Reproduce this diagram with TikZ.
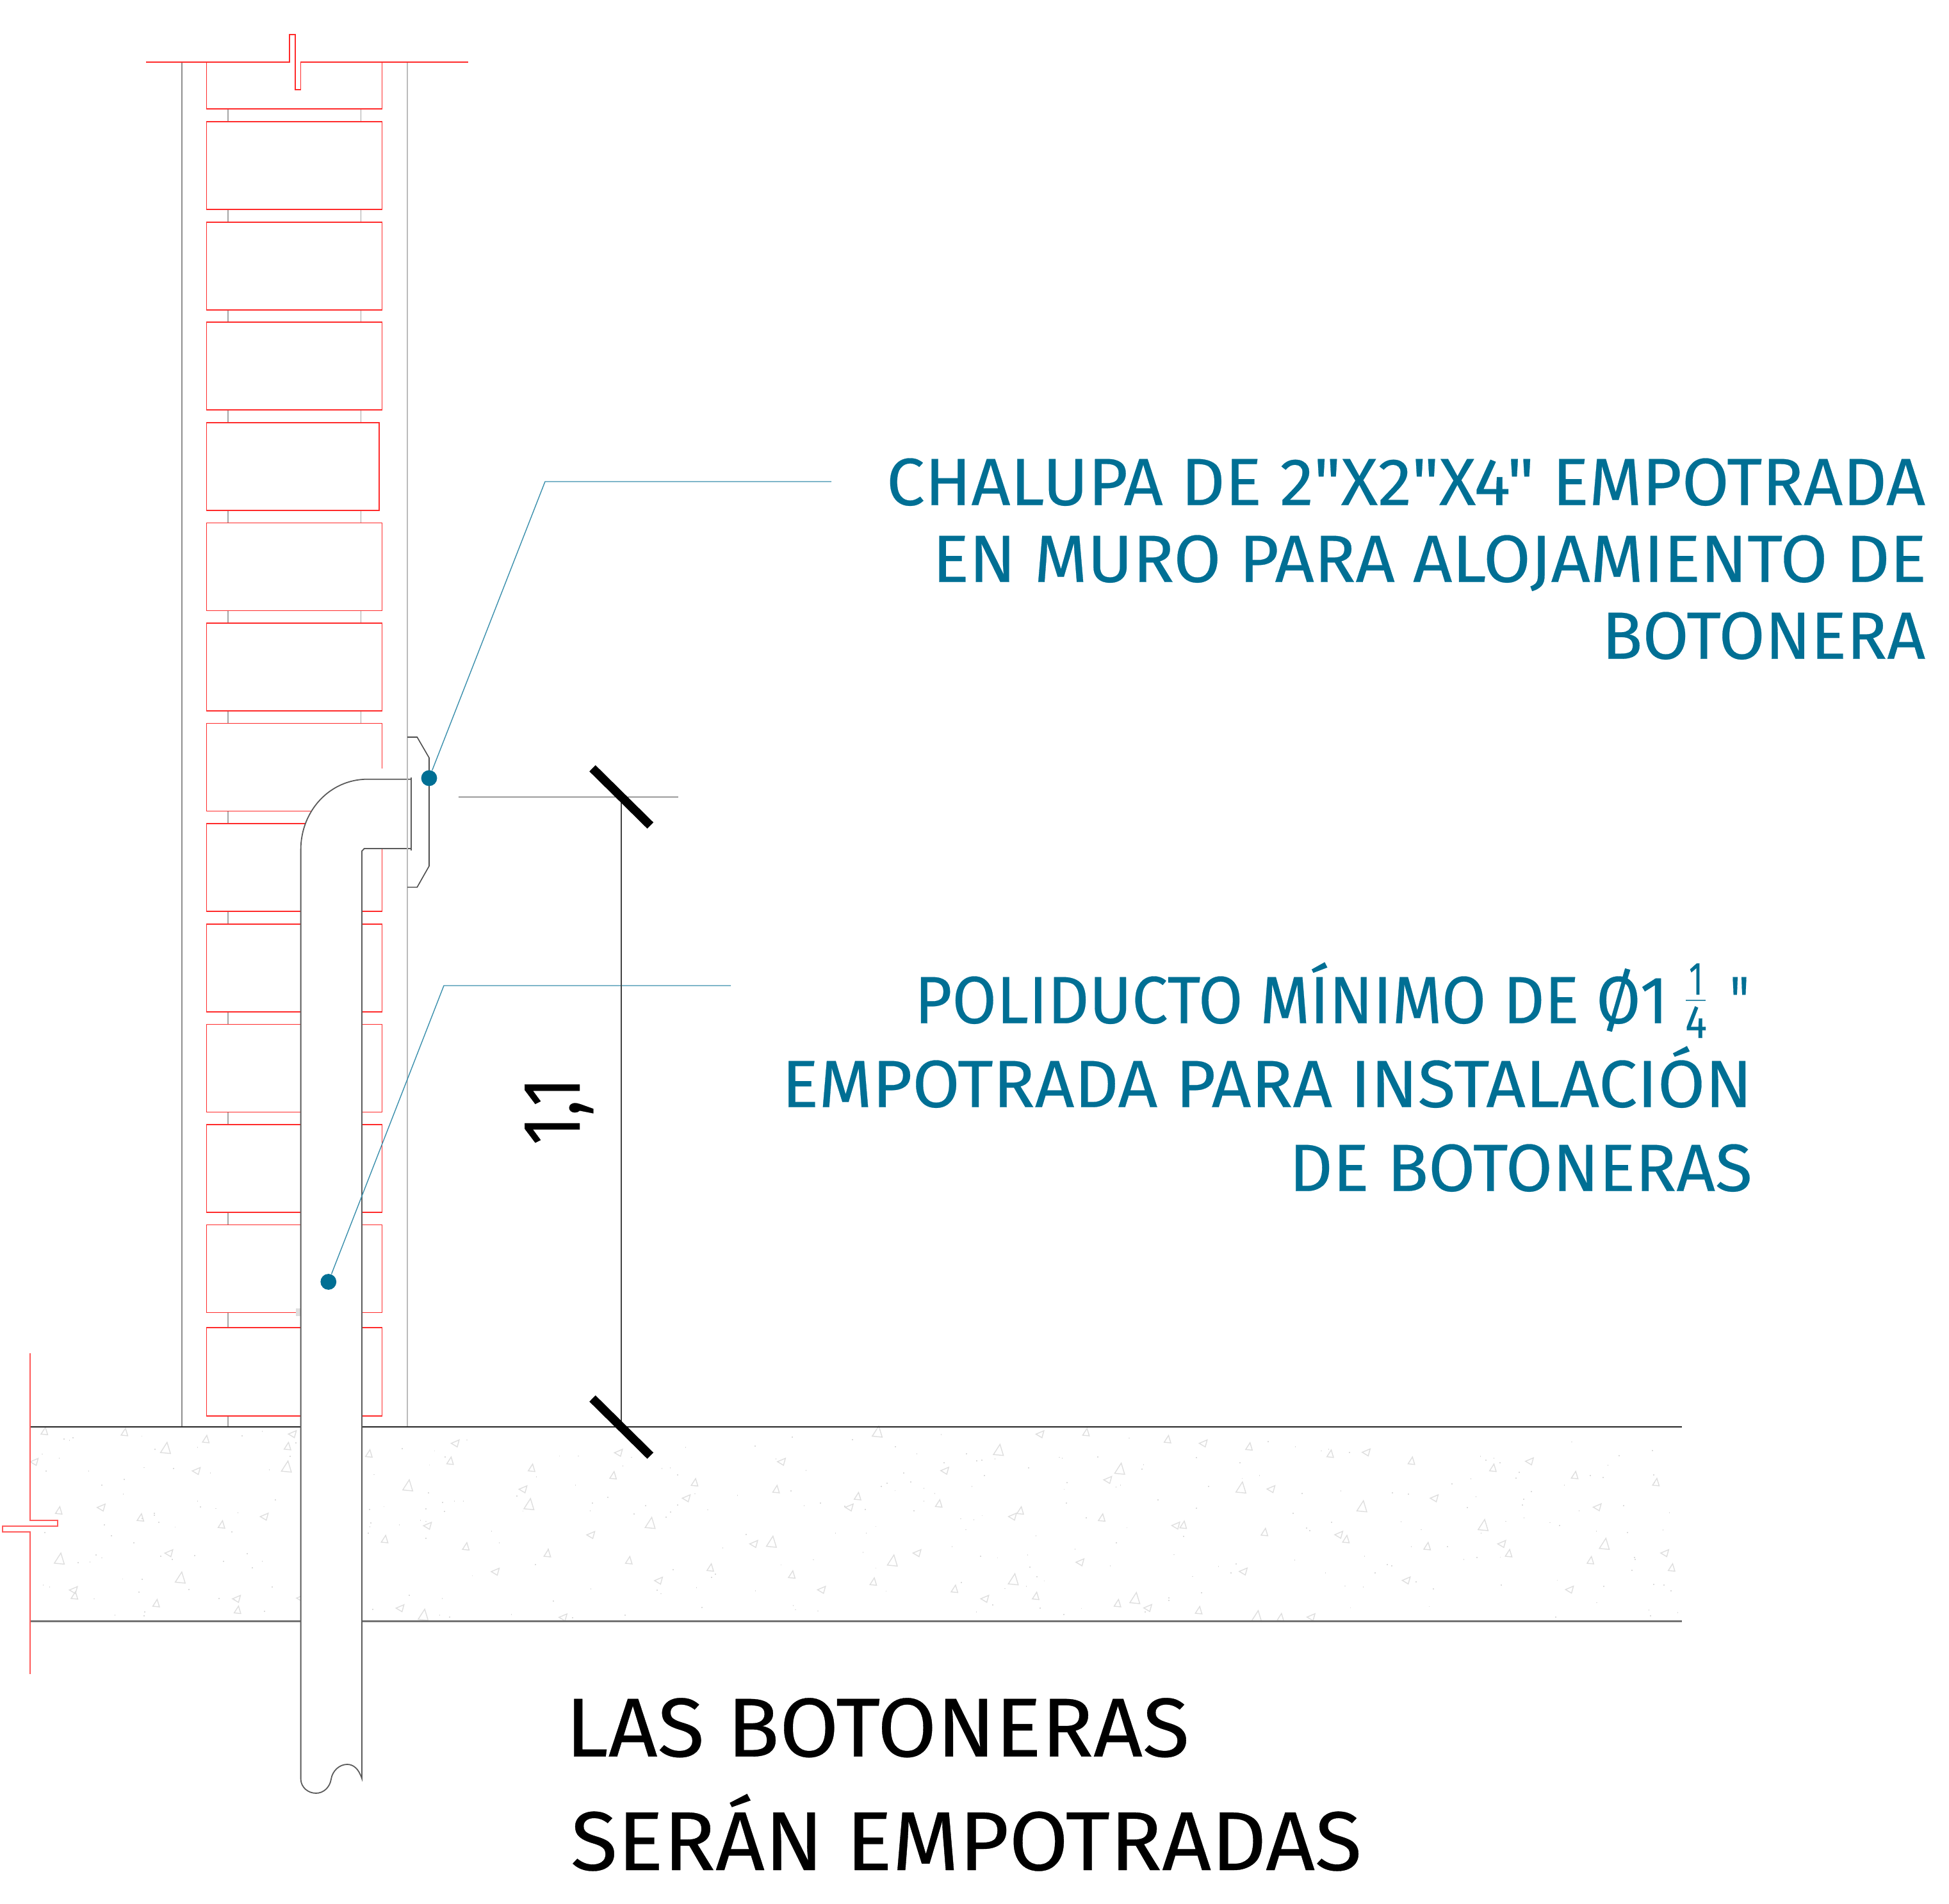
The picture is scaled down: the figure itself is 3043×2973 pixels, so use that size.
\documentclass[tikz,border=0pt]{standalone}
\usepackage{fontspec}
\usepackage{graphicx}
\newfontfamily\dinf{Fira Sans}[FakeBold=0.25]
\definecolor{teal}{HTML}{006F94}
\definecolor{leader}{HTML}{3A8FAC}
\definecolor{brick}{HTML}{FF2A2A}
\definecolor{breakl}{HTML}{FF5A5A}
\definecolor{wallg}{HTML}{8E8E8E}
\definecolor{walll}{HTML}{BBBBBB}
\definecolor{pipeg}{HTML}{5A5A5A}
\definecolor{aggr}{HTML}{DEDEDE}
\newdimen\pxu \pxu=.25pt
\newcommand{\fitw}[2]{\resizebox{#1\pxu}{\height}{#2}}
\newcommand{\tealfont}{\dinf\fontsize{26.1}{30}\selectfont}
\newcommand{\blackfont}{\dinf\fontsize{32.6}{38}\selectfont}
% aggregate: origin, zoom factors, lists of small up, left-pointing and large triangles
\newcommand{\aggregate}[7]{%
  \foreach \zx/\zy in {#5}{%
    \pgfmathsetmacro\cx{#1+\zx/#3}\pgfmathsetmacro\cy{#2+\zy/#4}%
    \draw[aggrline,shift={(\cx,\cy)}] (1.5,-5.6) -- (-5.3,5) -- (5,6) -- cycle;}%
  \foreach \zx/\zy in {#6}{%
    \pgfmathsetmacro\cx{#1+\zx/#3}\pgfmathsetmacro\cy{#2+\zy/#4}%
    \draw[aggrline,shift={(\cx,\cy)}] (6,-5.3) -- (-6.4,0) -- (3,5.6) -- cycle;}%
  \foreach \zx/\zy in {#7}{%
    \pgfmathsetmacro\cx{#1+\zx/#3}\pgfmathsetmacro\cy{#2+\zy/#4}%
    \draw[aggrline,shift={(\cx,\cy)}] (2.2,-8.4) -- (-8,7.5) -- (7.5,9) -- cycle;}%
}
\tikzset{
  txt/.style={inner sep=0pt,outer sep=0pt},
  tealtxt/.style={txt,text=teal,font=\tealfont},
  blacktxt/.style={txt,text=black,font=\blackfont},
  brickline/.style={draw=brick,line width=.45pt},
  breakline/.style={draw=breakl,line width=.5pt},
  wallline/.style={draw=wallg,line width=.45pt},
  walllight/.style={draw=walll,line width=.5pt},
  mortar/.style={draw=wallg!80,line width=.4pt},
  slabtop/.style={draw=black!85,line width=.45pt},
  slabbot/.style={draw=black!55,line width=.6pt},
  pipeline/.style={draw=pipeg,line width=.45pt},
  boxline/.style={draw=black!70,line width=.4pt},
  dimline/.style={draw=black!75,line width=.4pt},
  leaderline/.style={draw=leader,line width=.35pt},
  tick/.style={draw=black,line width=3.4pt},
  leaderdot/.style={circle,fill=teal,inner sep=0pt,minimum size=6.2pt},
  aggrline/.style={draw=aggr,line width=.35pt},
}
\begin{document}
\begin{tikzpicture}[x=.25pt,y=-.25pt]
\useasboundingbox (0,0) rectangle (3043,2973);
% slab texture
\pgfmathsetseed{42}
\foreach \i in {1,...,320}{%
  \pgfmathsetmacro\px{50+rnd*2570}\pgfmathsetmacro\py{2234+rnd*292}%
  \fill[black!14] (\px,\py) rectangle ++(1.6,1.8);}
\aggregate{560}{2225}{2.24}{3}
 {36/133,320/167,605/200,890/235,1175/268,1460/300,91/534,375/568,660/600,945/633,1230/667,1515/700}
 {338/86,909/130,1479/172,575/301,1146/343,241/472,812/515,1382/557,478/687,1049/729,145/858,715/901}
 {172/282,596/370,1020/458,1444/546,226/888}
\aggregate{1260}{2225}{2.24}{3}
 {976/33,1261/66,1546/100,177/333,461/367,746/400,1031/433,1316/467,232/733,516/767,800/800,1086/834,1370/867}
 {815/43,1386/86,482/214,1052/257,148/386,719/429,1290/471,385/600,955/643,1526/686,51/772,622/814,1192/857}
 {246/30,670/116,1094/204,1518/292,299/634,722/722,1147/810}
\aggregate{1960}{2225}{2.24}{3}
 {262/134,546/167,831/200,1117/234,1401/267,32/501,317/534,601/567,886/600,1172/633,1456/667,88/900}
 {388/128,959/170,55/300,626/343,1196/385,292/514,862/557,1432/600,528/728,1099/771,195/900}
 {373/380,797/468,1221/556,5/895}
\aggregate{0}{2000}{1.96}{1.823}
 {630/450,880/470,180/653,430/673,678/693,228/895,478/917,727/936,381/430,136/427}
 {895/436,105/515,601/541,310/645,809/671,517/775,225/880,724/905,920/903}
 {507/475,877/528,182/790,552/844}
% wall faces
\draw[wallline] (283.6,97.3) -- (283.6,2228);
\draw[walllight] (636,97.3) -- (636,2228);
% top break line
\draw[brickline] (228,97.3) -- (452.2,97.3) -- (452.2,54) -- (460.6,54) -- (460.6,140) -- (469.4,140) -- (469.4,97.3) -- (731,97.3);
% mortar joints
\draw[mortar] (355.8,170.3) -- (355.8,190) (563.5,170.3) -- (563.5,190);
\foreach \t in {190,346.7,503,660,816.5,973,1129.5,1286,1443,1599.5,1756,1912.5}{%
  \pgfmathsetmacro\b{\t+137}\pgfmathsetmacro\n{\t+156.5}%
  \draw[mortar] (355.8,\b) -- (355.8,\n) (563.5,\b) -- (563.5,\n);}
\draw[mortar] (355.8,2049.5) -- (355.8,2073);
\draw[mortar] (355.8,2210.6) -- (355.8,2228);
% bricks
\draw[brickline] (322.5,97.3) -- (322.5,170.3) -- (596.5,170.3) -- (596.5,97.3);
\foreach \t in {190,346.7,503,816.5,973,1129.5,1286,1443,1599.5,1756,1912.5}{%
  \pgfmathsetmacro\b{\t+137}%
  \draw[brickline] (322.5,\t) rectangle (596.5,\b);}
\draw[brickline] (322.5,660.2) rectangle (592,797.2);
\draw[brickline] (322.5,2073) rectangle (596.5,2210.6);
\fill[aggr] (462,2043) rectangle (470,2055);
% slab
\draw[slabtop] (47,2228) -- (2626,2228);
\draw[slabbot] (47,2531.5) -- (2626,2531.5);
% left break line
\draw[breakline] (47,2112.5) -- (47,2374) -- (90.3,2374) -- (90.3,2383) -- (4,2383) -- (4,2391.7) -- (47,2391.7) -- (47,2614);
% conduit
\fill[white] (590,1200) rectangle (602,1218);
\path[fill=white,pipeline] (642,1216.7) -- (574,1216.7)
  .. controls (515,1216.7) and (469.6,1266) .. (469.6,1327)
  -- (469.6,2778)
  .. controls (470,2791) and (481,2800) .. (493.4,2800)
  .. controls (505,2800) and (515,2791) .. (517,2778)
  .. controls (519,2765) and (530,2755) .. (542,2755)
  .. controls (552,2755) and (560,2762) .. (565,2777)
  -- (565,1329) -- (568.7,1325) -- (642,1325) -- cycle;
\draw[pipeline] (642,1214) -- (642,1328);
\draw[walllight] (636,1140) -- (636,1400);
% box
\draw[boxline] (636,1151) -- (651.3,1151) -- (670,1183.3) -- (670,1352.3) -- (651.3,1385.3) -- (636,1385.3);
% leaders
\node[leaderdot] (dotA) at (670,1215) {};
\node[leaderdot] (dotB) at (512.8,2001.5) {};
\coordinate (lA1) at (851,752);
\coordinate (lA2) at (1298,752);
\coordinate (lB1) at (693,1539);
\coordinate (lB2) at (1141,1539);
\draw[leaderline] (dotA) -- (lA1) -- (lA2);
\draw[leaderline] (dotB) -- (lB1) -- (lB2);
% dimension
\coordinate (dimL) at (715.6,1244.3);
\coordinate (dimR) at (1059.4,1244.3);
\coordinate (dimT) at (970,1244.3);
\coordinate (dimB) at (970,2228);
\coordinate (t1a) at (925,1199.7);
\coordinate (t1b) at (1015.4,1289);
\coordinate (t2a) at (925,2183.7);
\coordinate (t2b) at (1015.4,2273);
\draw[dimline] (dimL) -- (dimR);
\draw[dimline] (dimT) -- (dimB);
\draw[tick] (t1a) -- (t1b);
\draw[tick] (t2a) -- (t2b);
\node[txt,font={\dinf\fontsize{32}{36}\selectfont},rotate=90,anchor=base west] (dimtxt) at (905,1788) {\fitw{106}{1,1}};
% texts
\node[tealtxt,anchor=base east] (a1) at (3006,788.7) {\fitw{1622}{CHALUPA DE 2"X2"X4" EMPOTRADA}};
\node[tealtxt,anchor=base east] (a2) at (3008,908.7) {\fitw{1552}{EN MURO PARA ALOJAMIENTO DE}};
\node[tealtxt,anchor=base east] (a3) at (3006,1028.7) {\fitw{505}{BOTONERA}};
\node[tealtxt,anchor=base west] (b1) at (1428,1597.7) {\fitw{1176}{POLIDUCTO MÍNIMO DE Ø1}};
\node[txt,text=teal,font={\dinf\fontsize{18.2}{20}\selectfont},anchor=base] (fn) at (2648,1553) {\fitw{22}{1}};
\node[txt,text=teal,font={\dinf\fontsize{18.2}{20}\selectfont},anchor=base] (fd) at (2648,1620.7) {\fitw{34}{4}};
\coordinate (fbl) at (2632,1561.7);
\coordinate (fbr) at (2663,1561.7);
\draw[leader,line width=.6pt] (fbl) -- (fbr);
\node[tealtxt,anchor=base east] (b1q) at (2731,1597.7) {\fitw{30}{"}};
\node[tealtxt,anchor=base east] (b2) at (2735.7,1728.7) {\fitw{1515}{EMPOTRADA PARA INSTALACIÓN}};
\node[tealtxt,anchor=base east] (b3) at (2735.7,1859.7) {\fitw{723}{DE BOTONERAS}};
\node[blacktxt,anchor=base west] (c1) at (883,2742.7) {\fitw{974}{LAS BOTONERAS}};
\node[blacktxt,anchor=base west] (c2) at (891,2920) {\fitw{1235}{SERÁN EMPOTRADAS}};
\end{tikzpicture}
\end{document}
